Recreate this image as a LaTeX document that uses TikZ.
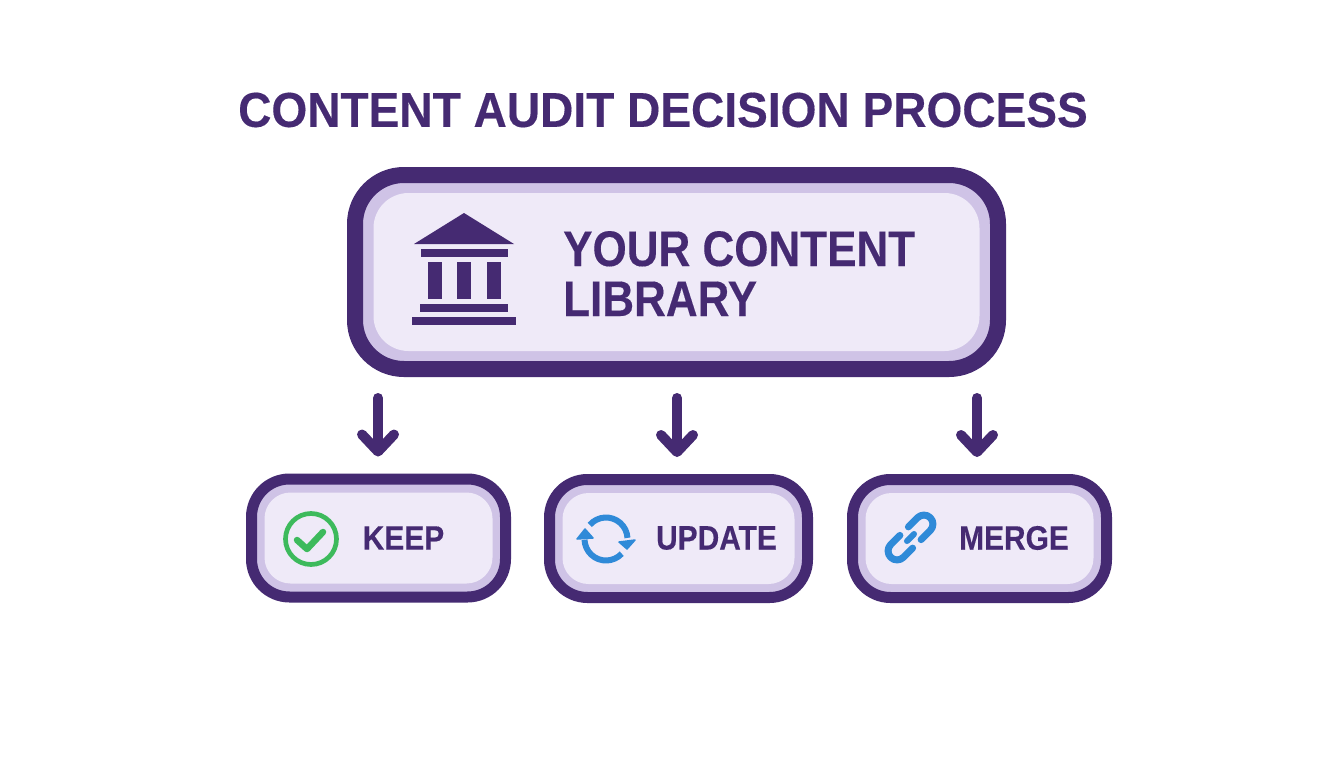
\documentclass[tikz,border=0pt]{standalone}
\usepackage{fontspec}
\setmainfont{Liberation Sans}
\newfontfamily\titlef[BoldFeatures={FakeBold=0.25,FakeStretch=0.94}]{Liberation Sans}
\newfontfamily\bigf[BoldFeatures={FakeBold=0.25,FakeStretch=0.88}]{Liberation Sans}
\newfontfamily\smallf[BoldFeatures={FakeBold=0.25,FakeStretch=0.88}]{Liberation Sans}
\usetikzlibrary{arrows.meta}
\definecolor{darkp}{HTML}{452A72}
\definecolor{bandp}{HTML}{CFC3E6}
\definecolor{fillp}{HTML}{EFEAF8}
\definecolor{greenc}{HTML}{3DBA5C}
\definecolor{bluec}{HTML}{2F8AD8}
\tikzset{
 bigouter/.style={draw=darkp,fill=bandp,line width=16pt,rounded corners=49pt,minimum width=643pt,minimum height=194pt,inner sep=0pt},
 biginner/.style={fill=fillp,rounded corners=35pt,minimum width=606pt,minimum height=158pt,inner sep=0pt},
 smallouter/.style={draw=darkp,fill=bandp,line width=11pt,rounded corners=38pt,minimum height=118pt,inner sep=0pt},
 smallinner/.style={fill=fillp,rounded corners=26pt,minimum height=91pt,inner sep=0pt},
 titletext/.style={text=darkp,font=\titlef\bfseries\fontsize{49}{49}\selectfont,inner sep=0pt},
 bigtext/.style={text=darkp,font=\bigf\bfseries\fontsize{50}{50}\selectfont,inner sep=0pt,anchor=base west},
 smalltext/.style={text=darkp,font=\smallf\bfseries\fontsize{34}{34}\selectfont,inner sep=0pt},
 flowarrow/.style={draw=darkp,line width=10pt,line cap=round,-{Straight Barb[round,length=17pt,width=32pt]},shorten <=21pt,shorten >=17pt},
 temple/.style={fill=darkp},
 iconline/.style={line width=6pt,line cap=round,line join=round},
}
\begin{document}
\begin{tikzpicture}[x=1pt,y=1pt,yscale=-1]
\useasboundingbox (0,0) rectangle (1344,768);
\fill[white] (0,0) rectangle (1344,768);
\node[titletext] (title) at (663,110) {CONTENT AUDIT DECISION PROCESS};
\node[bigouter] (lib) at (676.5,272) {};
\node[biginner] (libin) at (lib) {};
\node[smallouter,minimum width=254pt] (keep) at (378.5,538) {};
\node[smallinner,minimum width=228pt] (keepin) at (keep) {};
\node[smallouter,minimum width=258pt] (update) at (678.5,538.5) {};
\node[smallinner,minimum width=232pt] (updatein) at (update) {};
\node[smallouter,minimum width=254pt] (merge) at (979.5,538.5) {};
\node[smallinner,minimum width=228pt] (mergein) at (merge) {};
% connectors
\coordinate (ka) at ([xshift=-0.5pt]keep.north);
\coordinate (ua) at ([xshift=-1.5pt]update.north);
\coordinate (ma) at ([xshift=-2.5pt]merge.north);
\draw[flowarrow] (lib.south -| ka) -- (ka);
\draw[flowarrow] (lib.south -| ua) -- (ua);
\draw[flowarrow] (lib.south -| ma) -- (ma);
% temple
\fill[temple] (464,213) -- (514,244) -- (414,244) -- cycle;
\fill[temple] (421,249) rectangle (508,257);
\fill[temple] (428,262) rectangle (442,299);
\fill[temple] (457,262) rectangle (471,299);
\fill[temple] (487,262) rectangle (501,299);
\fill[temple] (420,304) rectangle (508,312);
\fill[temple] (412,317) rectangle (516,325);
\node[bigtext] (lib1) at (563,266) {YOUR CONTENT};
\node[bigtext] (lib2) at (563,316) {LIBRARY};
% check
\draw[greenc,line width=4.7pt] (311,539) circle[radius=25.5pt];
\draw[greenc,iconline,line width=6.5pt] (297,540) -- (307,549) -- (323,532);
\node[smalltext] (keept) at (403.5,538) {KEEP};
% refresh
\draw[bluec,iconline,line cap=butt] (606,539) ++(221:21.5pt) arc[start angle=221,end angle=357,radius=21.5pt];
\fill[bluec,draw=bluec,line width=1.5pt,line join=round] (619,542) -- (635,540) -- (627,549) -- cycle;
\draw[bluec,iconline,line cap=butt] (606,539) ++(43:21.5pt) arc[start angle=43,end angle=178,radius=21.5pt];
\fill[bluec,draw=bluec,line width=1.5pt,line join=round] (577,539) -- (593,538) -- (585,529) -- cycle;
\node[smalltext] (updatet) at (716.5,538) {UPDATE};
% link
\begin{scope}[shift={(910.5,537.5)},rotate=-45]
\draw[bluec,iconline,line width=7pt] (6,-9) -- (19,-9) arc[start angle=-90,end angle=90,radius=9pt] -- (6,9);
\draw[bluec,iconline,line width=7pt] (-6,-9) -- (-19,-9) arc[start angle=270,end angle=90,radius=9pt] -- (-6,9);
\draw[bluec,iconline,line width=6pt] (-5,0) -- (5,0);
\end{scope}
\node[smalltext] (merget) at (1014,538) {MERGE};
\end{tikzpicture}
\end{document}
